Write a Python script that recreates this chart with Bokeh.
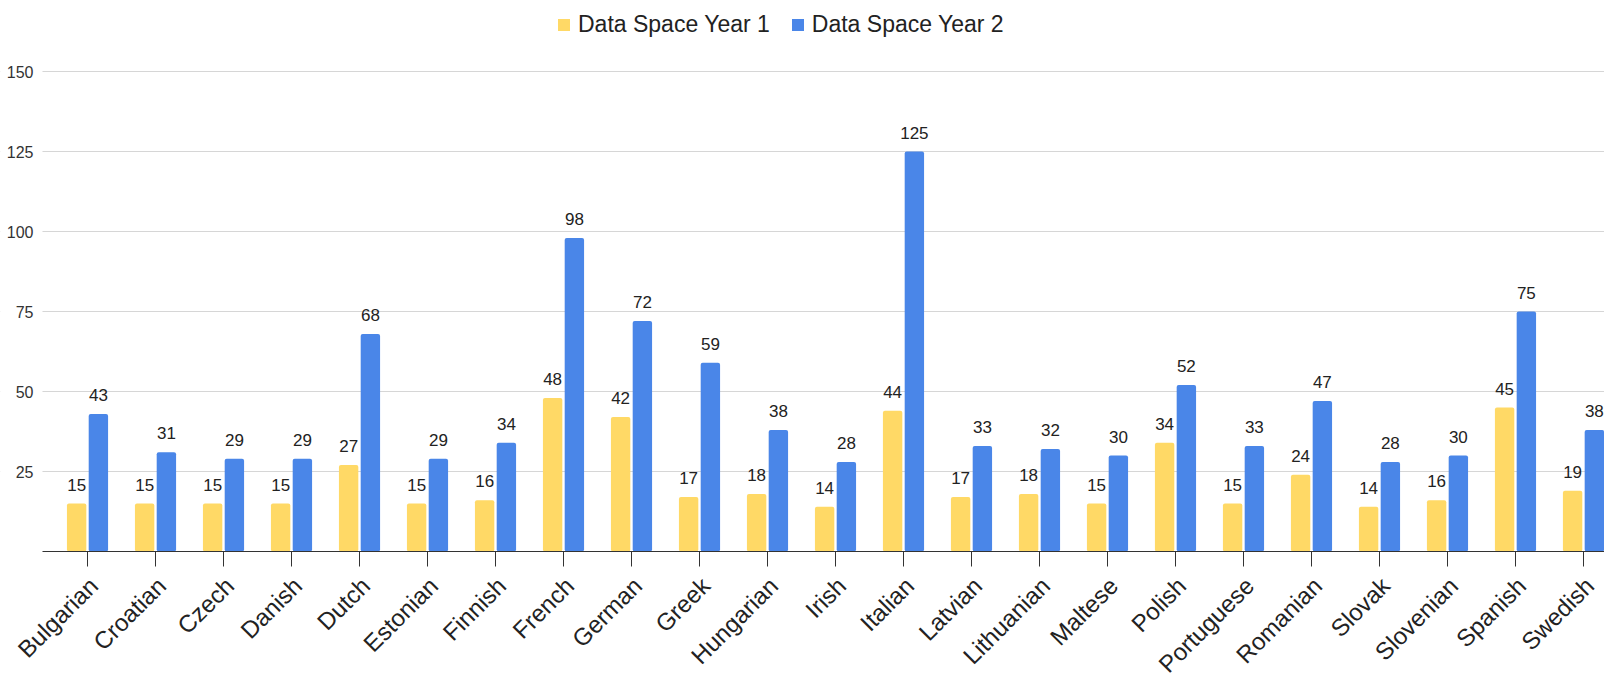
import math
from bokeh.plotting import figure
from bokeh.models import (ColumnDataSource, Range1d, FixedTicker, Legend, LegendItem, LinearAxis,
                          BoxAnnotation)
from bokeh.transform import dodge
from bokeh.core.properties import value
from bokeh.embed import file_html
from bokeh.resources import INLINE

languages = ["Bulgarian", "Croatian", "Czech", "Danish", "Dutch", "Estonian", "Finnish",
             "French", "German", "Greek", "Hungarian", "Irish", "Italian", "Latvian",
             "Lithuanian", "Maltese", "Polish", "Portuguese", "Romanian", "Slovak",
             "Slovenian", "Spanish", "Swedish"]
year1 = [15, 15, 15, 15, 27, 15, 16, 48, 42, 17, 18, 14, 44, 17, 18, 15, 34, 15, 24, 14, 16, 45, 19]
year2 = [43, 31, 29, 29, 68, 29, 34, 98, 72, 59, 38, 28, 125, 33, 32, 30, 52, 33, 47, 28, 30, 75, 38]
y_ticks = [25, 50, 75, 100, 125, 150]
series_names = ["Data Space Year 1", "Data Space Year 2"]
colors = ["#ffd966", "#4a86e8"]

idx = list(range(len(languages)))
src = ColumnDataSource(dict(x=idx, lang=languages, y1=year1, y2=year2,
                            t1=[str(v) for v in year1], t2=[str(v) for v in year2]))

FONT = "Liberation Sans"
X_LEFT = -0.662    # left end of the plotting area (grid / axis line start)
X_END = 22.309

# frame covers the whole figure; the axes sit inside it at fixed locations
p = figure(width=1604, height=680, output_backend="svg", toolbar_location=None,
           x_range=Range1d(-1.2796, X_END), y_range=Range1d(-40.31, 172.19),
           min_border_left=0, min_border_right=0, min_border_top=0, min_border_bottom=0)
p.outline_line_color = None
p.background_fill_color = "white"
p.border_fill_color = "white"

r1 = p.vbar(x=dodge("x", -0.16, range=p.x_range), top="y1", bottom=0, width=0.285, source=src,
            fill_color=colors[0], line_color=None, border_radius=2)
r2 = p.vbar(x=dodge("x", 0.16, range=p.x_range), top="y2", bottom=0, width=0.285, source=src,
            fill_color=colors[1], line_color=None, border_radius=2)

for col, txt, off in (("y1", "t1", -0.16), ("y2", "t2", 0.16)):
    p.text(x=dodge("x", off, range=p.x_range), y=col, text=txt, source=src,
           text_align="center", text_baseline="alphabetic", y_offset=-19,
           text_font=value(FONT), text_font_size="17px", text_color="#222222")

# x axis: line + tick marks at y = 0
p.xaxis.ticker = FixedTicker(ticks=idx)
p.xaxis.major_label_overrides = {i: "" for i in idx}
p.xaxis.major_label_text_font_size = "1px"
p.xaxis.major_label_standoff = 0
p.xaxis.major_tick_in = 0
p.xaxis.major_tick_out = 15
p.xaxis.major_tick_line_color = "#333333"
p.xaxis.minor_tick_line_color = None
p.xaxis.axis_line_color = "#333333"
p.xaxis.fixed_location = 0
p.xaxis.bounds = (X_LEFT, X_END)

# category labels (rotated), slightly right of the tick like the reference
label_pos = [round(i + 0.09, 2) for i in idx]
lab_axis = LinearAxis(ticker=FixedTicker(ticks=label_pos),
                      major_label_overrides={t: l for t, l in zip(label_pos, languages)},
                      major_label_orientation=math.pi / 4,
                      major_label_text_font=FONT, major_label_text_font_size="24px",
                      major_label_text_color="#222222", major_label_standoff=15,
                      major_tick_in=0, major_tick_out=15, major_tick_line_color=None,
                      minor_tick_line_color=None, axis_line_color=None, fixed_location=0)
p.add_layout(lab_axis, "below")

p.yaxis.ticker = FixedTicker(ticks=y_ticks)
p.yaxis.axis_line_color = None
p.yaxis.major_tick_line_color = None
p.yaxis.major_tick_out = 0
p.yaxis.major_tick_in = 0
p.yaxis.minor_tick_line_color = None
p.yaxis.major_label_text_font = FONT
p.yaxis.major_label_text_font_size = "16px"
p.yaxis.major_label_text_color = "#333333"
p.yaxis.major_label_standoff = 9
p.yaxis.fixed_location = X_LEFT

p.xgrid.grid_line_color = None
p.ygrid.ticker = FixedTicker(ticks=y_ticks)
p.ygrid.grid_line_color = "#d6d6d6"
p.ygrid.grid_line_width = 1
p.ygrid.level = "image"

# blank strip left of the plotting area (keeps gridlines starting at the axis)
p.add_layout(BoxAnnotation(right=X_LEFT, fill_color="white", fill_alpha=1.0,
                           line_color=None, level="underlay"))

legend = Legend(items=[LegendItem(label=series_names[0], renderers=[r1]),
                       LegendItem(label=series_names[1], renderers=[r2])],
                orientation="horizontal", location=(556, 642),
                glyph_width=15, glyph_height=15, label_standoff=7, spacing=20,
                padding=0, margin=0, border_line_color=None, background_fill_alpha=0,
                label_text_font=FONT, label_text_font_size="23px", label_text_color="#222222")
p.add_layout(legend, "center")

open("out.html", "w").write(file_html(p, INLINE))
